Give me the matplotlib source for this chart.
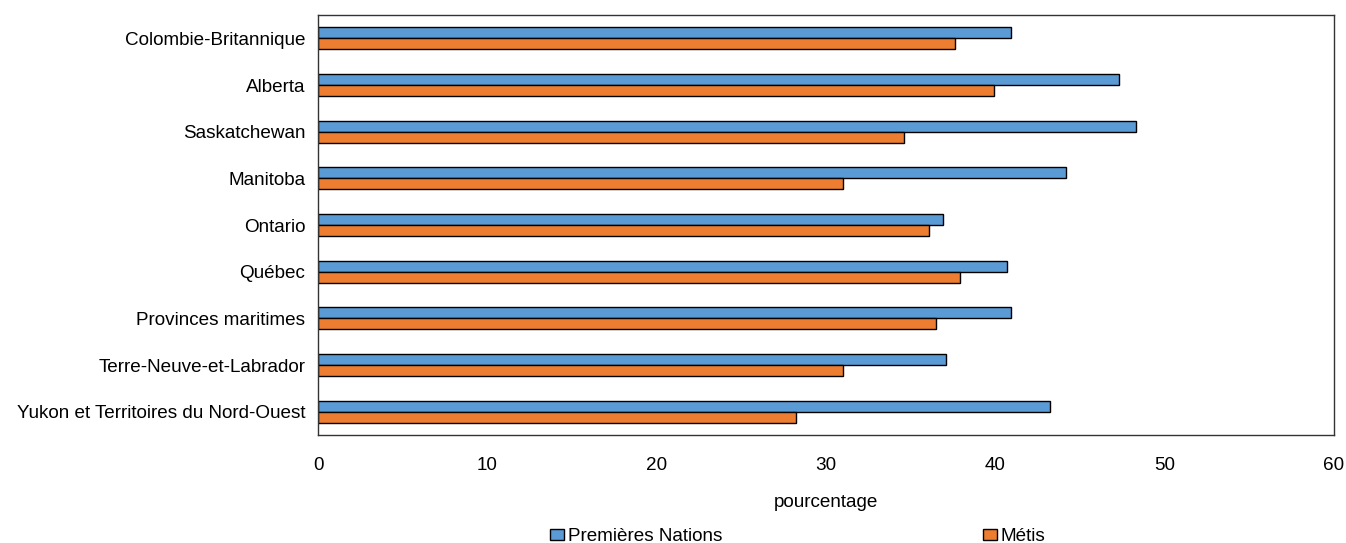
import matplotlib
matplotlib.use("Agg")
import matplotlib.pyplot as plt
import numpy as np

categories = ["Colombie-Britannique", "Alberta", "Saskatchewan", "Manitoba", "Ontario",
              "Québec", "Provinces maritimes", "Terre-Neuve-et-Labrador",
              "Yukon et Territoires du Nord-Ouest"]
premieres_nations = [40.9, 47.3, 48.3, 44.2, 36.9, 40.7, 40.9, 37.1, 43.2]
metis = [37.6, 39.9, 34.6, 31.0, 36.1, 37.9, 36.5, 31.0, 28.2]
series_names = ["Premières Nations", "Métis"]
xticks = [0, 10, 20, 30, 40, 50, 60]

plt.rcParams['font.family'] = ['Liberation Sans', 'DejaVu Sans']
FS = 13.6

fig = plt.figure(figsize=(13.46, 5.43), dpi=100)
ax = fig.add_axes([318/1346, 1-435/543, (1334-318)/1346, (435-15)/543])

y = np.arange(len(categories))
h = 0.235
ax.barh(y - h/2, premieres_nations, height=h, color="#5B9BD5", edgecolor="black", linewidth=1, label=series_names[0])
ax.barh(y + h/2, metis, height=h, color="#ED7D31", edgecolor="black", linewidth=1, label=series_names[1])

ax.set_ylim(len(categories) - 0.5, -0.5)
ax.set_xlim(0, 60)
ax.set_xticks(xticks)
ax.set_yticks(y)
ax.set_yticklabels(categories, fontsize=FS)
ax.tick_params(axis='x', labelsize=FS, length=0, pad=16)
ax.tick_params(axis='y', length=0, pad=9)
ax.set_xlabel("pourcentage", fontsize=FS, labelpad=14)
for s in ax.spines.values():
    s.set_color("#333333")
    s.set_linewidth(1)

fig.legend(loc="lower center", bbox_to_anchor=(0.5925, -0.035), ncol=2, frameon=False,
           fontsize=FS, handlelength=0.75, handleheight=0.5, handletextpad=0.2,
           columnspacing=13.8)

fig.savefig("out.png", dpi=100)
